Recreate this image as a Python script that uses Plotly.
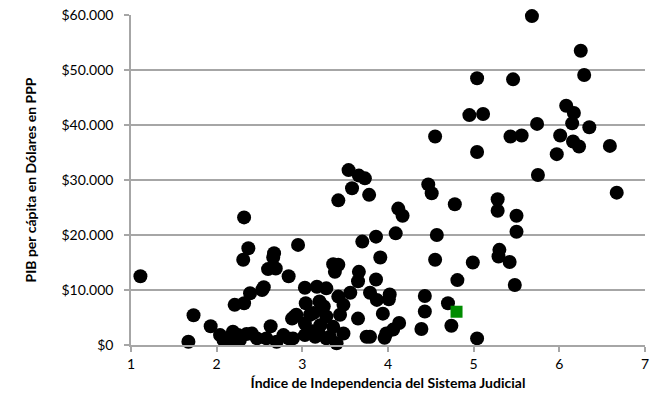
import plotly.graph_objects as go

# Índice de Independencia del Sistema Judicial (x) vs PIB per cápita PPP (y)
indice = [
    5.68, 6.25, 6.29, 5.04, 5.46, 4.95, 5.11, 6.08, 6.17, 6.15,
    5.74, 6.35, 4.55, 5.43, 5.56, 6.01, 6.16, 6.23, 6.59, 5.97,
    5.04, 5.75, 6.67, 5.28, 5.28, 5.50, 5.50, 5.30, 5.29, 5.42,
    5.48, 5.04, 4.47, 4.51, 4.78, 4.12, 4.17, 4.09, 4.57, 4.55,
    4.99, 4.81, 4.02, 4.43, 4.70, 4.43, 4.13, 4.06, 4.39, 4.74,
    3.98, 3.96, 3.94, 3.54, 3.66, 3.73, 3.58, 3.42, 3.78, 2.95,
    3.70, 3.86, 3.91, 3.36, 3.42, 3.38, 3.66, 3.65, 3.86, 2.84,
    3.03, 3.17, 3.28, 3.56, 3.79, 4.01, 3.87, 3.42, 3.48, 3.04,
    3.20, 3.25, 3.65, 2.91, 3.09, 3.28, 3.44, 3.36, 3.21, 3.03,
    3.48, 3.75, 2.89, 3.15, 3.40, 3.28, 3.19, 3.32, 3.13, 3.23,
    3.03, 1.11, 2.32, 2.37, 2.31, 2.67, 2.60, 2.69, 2.55, 2.39,
    2.32, 2.21, 1.73, 1.93, 1.67, 2.04, 2.08, 2.19, 2.25, 2.27,
    2.16, 2.41, 2.47, 2.58, 2.63, 2.70, 2.78, 2.84, 2.88, 2.93,
    3.79, 2.66, 2.12, 2.22, 3.12, 2.35, 2.53,
]
pib = [
    59800, 53500, 49100, 48500, 48300, 41800, 42000, 43500, 42200, 40300,
    40200, 39600, 37900, 37900, 38100, 38100, 37000, 36100, 36200, 34700,
    35100, 30900, 27700, 26500, 24400, 23500, 20600, 17300, 16100, 15100,
    10900, 1200, 29200, 27600, 25600, 24800, 23500, 20300, 20000, 15500,
    15000, 11800, 9200, 8900, 7600, 6100, 4000, 2800, 2900, 3500,
    2100, 1300, 5700, 31800, 30800, 30300, 28500, 26300, 27300, 18200,
    18800, 19700, 15900, 14700, 14600, 13300, 13300, 11600, 11900, 12500,
    10400, 10600, 10300, 9500, 9500, 8300, 8200, 8800, 7300, 7600,
    7900, 7000, 4800, 5200, 5500, 5200, 5500, 3300, 3600, 1800,
    2100, 1500, 1200, 1500, 300, 1200, 2100, 1500, 5800, 6400,
    3900, 12500, 23200, 17600, 15500, 16700, 13800, 13900, 10500, 9400,
    7600, 7300, 5400, 3400, 600, 1800, 900, 2400, 1800, 900,
    900, 2100, 1200, 1200, 3400, 600, 1800, 1200, 4800, 5500,
    1500, 15900, 1200, 1300, 2500, 2000, 10000,
]

destacado_x = [4.80]
destacado_y = [6050]

y_ticks = [0, 10000, 20000, 30000, 40000, 50000, 60000]
y_labels = ["$0", "$10.000", "$20.000", "$30.000", "$40.000", "$50.000", "$60.000"]
x_ticks = [1, 2, 3, 4, 5, 6, 7]

fig = go.Figure()
fig.add_trace(go.Scatter(
    x=indice, y=pib, mode="markers",
    marker=dict(symbol="circle", size=14, color="black", line=dict(width=0)),
    cliponaxis=False, showlegend=False,
))
fig.add_trace(go.Scatter(
    x=destacado_x, y=destacado_y, mode="markers",
    marker=dict(symbol="square", size=12, color="#008c00", line=dict(width=0)),
    cliponaxis=False, showlegend=False,
))

fig.update_layout(
    width=657, height=400,
    margin=dict(l=131, r=12, t=15, b=55),
    paper_bgcolor="white", plot_bgcolor="white",
    font=dict(family="Lato, Open Sans, sans-serif", size=14, color="black"),
    xaxis=dict(
        range=[1, 7], tickvals=x_ticks, showgrid=False, zeroline=False,
        showline=True, linecolor="#a6a6a6", linewidth=1.5,
        ticks="outside", ticklen=5, tickcolor="#a6a6a6", tickwidth=1.5,
        tickfont=dict(size=14), automargin=False,
        title=dict(text="<b>Índice de Independencia del Sistema Judicial</b>",
                   font=dict(size=14), standoff=8),
    ),
    yaxis=dict(
        range=[0, 60000], tickvals=y_ticks, ticktext=y_labels,
        showgrid=True, gridcolor="#a6a6a6", gridwidth=1.5, zeroline=False,
        showline=True, linecolor="#a6a6a6", linewidth=1.5,
        ticks="outside", ticklen=5, tickcolor="#a6a6a6", tickwidth=1.5,
        tickfont=dict(size=14), ticklabelstandoff=8, automargin=False,
        title=dict(text="<b>PIB per cápita en Dólares en PPP</b>",
                   font=dict(size=14), standoff=22),
    ),
)

fig.write_html("out.html", config={"displayModeBar": False},
               post_script="document.body.style.margin='0';")
